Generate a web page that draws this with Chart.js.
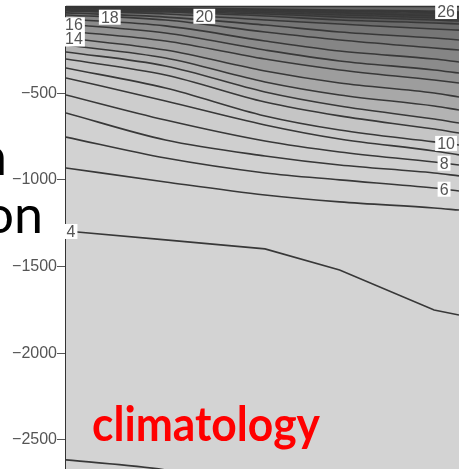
<!DOCTYPE html>
<html>
<head>
<meta charset="utf-8">
<script src="https://cdn.jsdelivr.net/npm/chart.js@4.4.1/dist/chart.umd.min.js"></script>
<style>
  body { margin: 0; width: 459px; height: 469px; overflow: hidden; background: #fff; position: relative; }
  #chart { position: absolute; left: 0; top: 0; }
  .slide { position: absolute; font-family: Lato, sans-serif; font-size: 52px; line-height: 52px; color: #000; white-space: nowrap; }
  #clim { position: absolute; left: 92px; top: 400px; font-family: Lato, sans-serif; font-weight: bold;
          font-size: 47px; line-height: 47px; color: #ff0000; white-space: nowrap; transform-origin: left top; z-index: 3; }
</style>
</head>
<body>
<div class="slide" style="right:452px; top:129px;">n</div>
<div class="slide" style="right:416px; top:187px;">on</div>
<canvas id="chart" width="459" height="469"></canvas>
<div id="clim">climatology</div>
<script>
// setup
// section position (x) where each isotherm depth was read
const xs = [0, 1, 2, 2.75, 3.7, 3.95];

// isotherm depths (m) at each xs, one array per contour level (°C)
const t3  = [-2615, -2673, -2788, -2875, -2933, -2950];
const t4  = [-1295, -1346, -1398, -1520, -1750, -1779];
const t5  = [-931, -1012, -1087, -1127, -1162, -1174];
const t6  = [-753, -874, -960, -1000, -1047, -1064];
const t7  = [-614, -770, -862, -914, -960, -977];
const t8  = [-510, -655, -776, -839, -897, -914];
const t9  = [-412, -545, -683, -764, -833, -856];
const t10 = [-355, -470, -631, -712, -781, -799];
const t11 = [-303, -395, -551, -631, -707, -730];
const t12 = [-262, -343, -493, -574, -649, -672];
const t13 = [-222, -297, -435, -510, -574, -597];
const t14 = [-182, -251, -372, -441, -499, -522];
const t15 = [-141, -199, -303, -366, -424, -441];
const t16 = [-101, -153, -251, -314, -366, -384];
const t17 = [-72, -112, -199, -257, -303, -320];
const t18 = [-49, -78, -147, -193, -239, -251];
const t19 = [-37, -61, -107, -147, -182, -193];
const t20 = [-26, -43, -78, -101, -130, -136];
const t21 = [-20, -32, -55, -78, -95, -101];
const t22 = [-17, -26, -43, -61, -78, -84];
const t23 = [-14, -20, -35, -49, -66, -72];
const t24 = [-12, -14, -26, -37, -55, -61];
const t25 = [-9, -12, -20, -26, -37, -43];
const t26 = [-6, -9, -14, -20, -26, -32];

const levels = [3, 4, 5, 6, 7, 8, 9, 10, 11, 12, 13, 14, 15, 16, 17, 18, 19, 20, 21, 22, 23, 24, 25, 26];
const isotherms = [t3, t4, t5, t6, t7, t8, t9, t10, t11, t12, t13, t14, t15, t16, t17, t18, t19, t20, t21, t22, t23, t24, t25, t26];

// shade of the band just below each level, then the band above the warmest one
const bandColors = ['#d3d3d3', '#d3d3d3', '#d3d3d3', '#d2d2d2', '#d1d1d1', '#cfcfcf', '#cdcdcd', '#cacaca',
                    '#c5c5c5', '#bdbdbd', '#b3b3b3', '#a8a8a8', '#9d9d9d', '#939393', '#8b8b8b', '#858585',
                    '#7e7e7e', '#767676', '#6a6a6a', '#5c5c5c', '#4e4e4e', '#444444', '#3d3d3d', '#393939'];
const topColor = '#666666';

// inline contour labels: level and section position
const labelLevels = [16, 14, 4, 18, 20, 26, 10, 8, 6];
const labelXs = [0.08, 0.08, 0.05, 0.44, 1.39, 3.82, 3.82, 3.8, 3.8];

const yMin = -2667;
const yTicks = [-2500, -2000, -1500, -1000, -500];

function toPoints(arr) {
    return arr.map((d, i) => ({ x: xs[i], y: d }));
}

const datasets = [{
    data: xs.map(x => ({ x: x, y: -4000 })),
    borderWidth: 0,
    pointRadius: 0,
    fill: false
}];

isotherms.forEach((arr, i) => {
    const straight = levels[i] === 4;
    datasets.push({
        label: levels[i] + '',
        data: toPoints(arr),
        borderColor: '#383838',
        borderWidth: 1.6,
        pointRadius: 0,
        backgroundColor: bandColors[i],
        fill: '-1',
        cubicInterpolationMode: straight ? 'default' : 'monotone',
        tension: 0
    });
});

datasets.push({
    data: xs.map(x => ({ x: x, y: 200 })),
    borderWidth: 0,
    pointRadius: 0,
    backgroundColor: topColor,
    fill: '-1'
});

function depthAt(level, x) {
    const arr = isotherms[levels.indexOf(level)];
    for (let i = 0; i < xs.length - 1; i++) {
        if (x >= xs[i] && x <= xs[i + 1]) {
            const f = (x - xs[i]) / (xs[i + 1] - xs[i]);
            return arr[i] + f * (arr[i + 1] - arr[i]);
        }
    }
    return arr[arr.length - 1];
}

const framePlugin = {
    id: 'frame',
    afterDraw(chart) {
        const { ctx, chartArea, scales } = chart;
        ctx.save();
        ctx.strokeStyle = '#333';
        ctx.lineWidth = 1.5;
        ctx.beginPath();
        ctx.moveTo(chartArea.left, chartArea.top);
        ctx.lineTo(chartArea.right, chartArea.top);
        ctx.stroke();

        ctx.font = '16px "Liberation Sans", Arial, sans-serif';
        ctx.textAlign = 'center';
        ctx.textBaseline = 'middle';
        labelLevels.forEach((lev, i) => {
            const px = scales.x.getPixelForValue(labelXs[i]);
            const py = scales.y.getPixelForValue(depthAt(lev, labelXs[i]));
            const txt = lev + '';
            const w = ctx.measureText(txt).width;
            ctx.fillStyle = '#fff';
            ctx.fillRect(px - w / 2 - 2, py - 7.5, w + 4, 15);
            ctx.fillStyle = '#555';
            ctx.fillText(txt, px, py + 1);
        });
        ctx.restore();
    }
};

// config
const config = {
    type: 'line',
    data: { datasets },
    options: {
        responsive: false,
        animation: false,
        layout: { padding: { top: 6.5, right: 0, bottom: 0, left: 0 } },
        plugins: { legend: { display: false }, tooltip: { enabled: false } },
        scales: {
            x: {
                type: 'linear',
                min: 0,
                max: 3.95,
                z: 1,
                ticks: { display: false, stepSize: 1 },
                grid: {
                    drawTicks: false,
                    color: c => [1, 2, 3].includes(c.tick.value) ? '#a8a8a8' : 'rgba(0,0,0,0)',
                    lineWidth: 1
                },
                border: { display: false, dash: [2, 3] },
                afterFit: s => { s.height = 0; }
            },
            y: {
                min: yMin,
                max: 0,
                z: 1,
                afterBuildTicks: s => {
                    s.ticks = [yMin].concat(yTicks, [0]).map(v => ({ value: v }));
                },
                ticks: {
                    padding: 0,
                    color: '#555',
                    font: { family: '"Liberation Sans", Arial, sans-serif', size: 16, lineHeight: 0.01 },
                    callback: v => yTicks.includes(v) ? '\u2212' + Math.abs(v) : null
                },
                grid: {
                    color: c => c.tick && yTicks.includes(c.tick.value) ? '#a8a8a8' : 'rgba(0,0,0,0)',
                    tickColor: '#555',
                    tickLength: 9,
                    lineWidth: 1
                },
                border: { display: true, color: '#333', width: 1.5, dash: [2, 3] },
                afterFit: s => { s.width = 66; }
            }
        }
    },
    plugins: [framePlugin]
};

// render init block
const myChart = new Chart(document.getElementById('chart'), config);

// squeeze the overlay word to the width it has in the figure
const clim = document.getElementById('clim');
const w = clim.getBoundingClientRect().width;
clim.style.transform = 'scaleX(' + (228 / w) + ')';
</script>
</body>
</html>
